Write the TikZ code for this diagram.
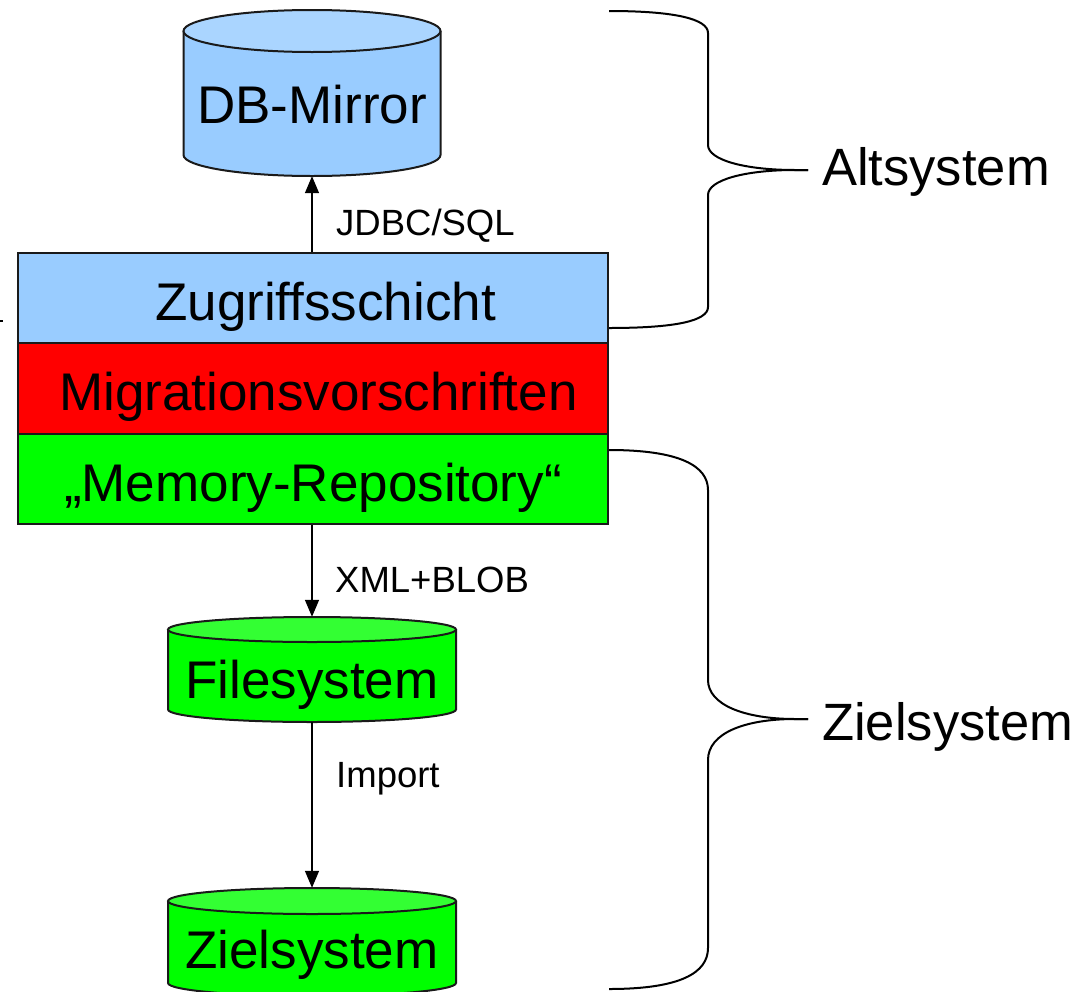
\documentclass[tikz,border=0pt]{standalone}
\usepackage{fontspec}
\setmainfont{Liberation Sans}
\usetikzlibrary{arrows.meta,calc}
\definecolor{lblue}{HTML}{99CCFF}
\definecolor{ltop}{HTML}{AAD5FF}
\definecolor{gbody}{HTML}{00FF00}
\definecolor{gtop}{HTML}{33FF33}
\definecolor{outl}{HTML}{1A1A1A}
\newcommand{\mycyl}[8]{%
  \fill[#7] (#2-#5,#3) rectangle (#2+#5,#4);
  \fill[#7] (#2,#4) ellipse[x radius=#5,y radius=#6];
  \draw[cylline] (#2-#5,#3) -- (#2-#5,#4) arc[start angle=180,end angle=0,x radius=#5,y radius=#6] -- (#2+#5,#3);
  \filldraw[cylline,fill=#8] (#2,#3) ellipse[x radius=#5,y radius=#6];
  \node[cylnode,minimum width=2*#5,minimum height=#4-#3+2*#6] (#1) at (#2,{(#3+#4)/2}) {};
}
\tikzset{
  cylline/.style={draw=outl,line width=2pt},
  cylnode/.style={rectangle,inner sep=0pt,draw=none},
  layer/.style={rectangle,draw=outl,line width=2pt,inner sep=0pt,minimum width=590pt,minimum height=90.5pt,text height=45pt,text depth=0pt,font=\fontsize{53}{60}\selectfont},
  bigtext/.style={inner sep=0pt,font=\fontsize{53}{60}\selectfont},
  sidetext/.style={inner sep=0pt,anchor=base west,font=\fontsize{52.5}{60}\selectfont},
  smalltext/.style={inner sep=0pt,anchor=base west,font=\fontsize{36.5}{44}\selectfont},
  flow/.style={draw=black,line width=1.5pt,-{Triangle[length=17pt,width=14pt]}},
  brace/.style={draw=black,line width=2pt}
}
\begin{document}
\begin{tikzpicture}[x=1pt,y=-1pt]
\useasboundingbox (0,0) rectangle (1090,991);
% cylinders
\mycyl{dbm}{312}{31}{155}{128.5}{21}{lblue}{ltop}
\mycyl{fs}{312}{629.5}{709.5}{144}{12.5}{gbody}{gtop}
\mycyl{zs}{312}{901}{983}{144}{13}{gbody}{gtop}
\node[bigtext,anchor=base] (dbmtext) at (312,123) {DB-Mirror};
\node[bigtext,anchor=base] (fstext) at (312,698) {Filesystem};
\node[bigtext,anchor=base] (zstext) at (312,968) {Zielsystem};
% layer stack
\node[layer,fill=lblue] (zug) at (313,297.75) {\hspace*{25pt}Zugriffsschicht};
\node[layer,fill=red] (mig) at (313,388.25) {\hspace*{11pt}Migrationsvorschriften};
\node[layer,fill=gbody] (mem) at (313,478.75) {„Memory-Repository“};
% connectors
\draw[flow] (zug.north -| dbm.south) -- (dbm.south);
\draw[flow] (mem.south -| fs.north) -- (fs.north);
\draw[flow] (fs.south) -- (zs.north);
\node[smalltext] (jdbc) at (336,235) {JDBC/SQL};
\node[smalltext] (xml) at (335,592) {XML+BLOB};
\node[smalltext] (imp) at (336,787) {Import};
% braces
\coordinate (a1) at (609,11);
\coordinate (a2) at (609,328);
\coordinate (atip) at (808,170);
\draw[brace] (a1) .. controls (675,11) and (708,19) .. (708,33) -- (708,145)
  .. controls (708,160) and (745,170) .. (795,170) -- (atip);
\draw[brace] (atip) -- (795,170) .. controls (745,170) and (708,180) .. (708,195) -- (708,307)
  .. controls (708,321) and (675,328) .. (a2);
\coordinate (z1) at (609,450);
\coordinate (z2) at (609,989);
\coordinate (ztip) at (808,719);
\draw[brace] (z1) .. controls (680,450) and (708,466) .. (708,490) -- (708,680)
  .. controls (708,705) and (745,719) .. (795,719) -- (ztip);
\draw[brace] (ztip) -- (795,719) .. controls (745,719) and (708,733) .. (708,760) -- (708,948)
  .. controls (708,973) and (680,989) .. (z2);
\node[sidetext] (alt) at (822,185) {Altsystem};
\node[sidetext] (ziel) at (822,740) {Zielsystem};
% small mark at left edge
\coordinate (m1) at (0,321);
\coordinate (m2) at (3,321);
\draw[line width=1.5pt] (m1) -- (m2);
\end{tikzpicture}
\end{document}
